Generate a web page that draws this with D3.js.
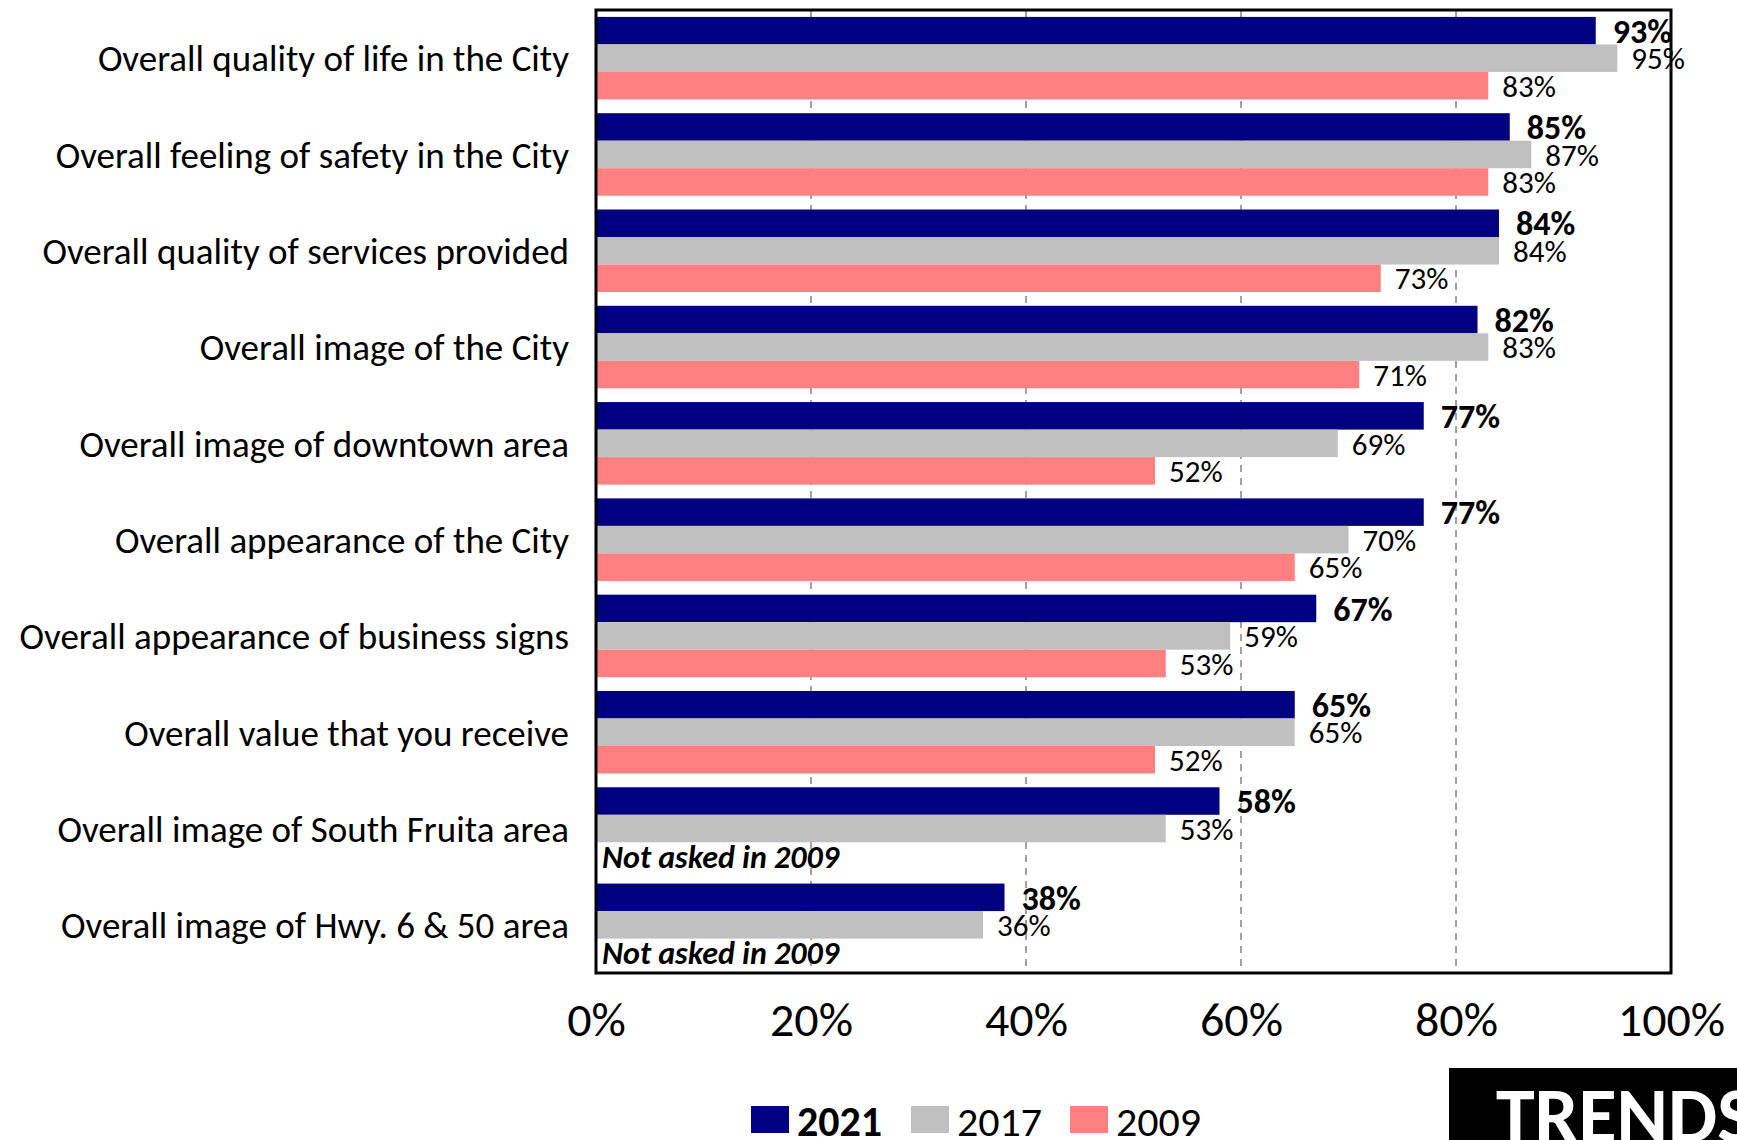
<!DOCTYPE html>
<html>
<head>
<meta charset="utf-8">
<script src="https://cdn.jsdelivr.net/npm/d3@7"></script>
<style>
  body { margin: 0; background: #fff; }
  text { font-family: Carlito, Lato, sans-serif; }
</style>
</head>
<body>
<div id="chart"></div>
<script>
// survey items, top to bottom
let categories = [
  "Overall quality of life in the City",
  "Overall feeling of safety in the City",
  "Overall quality of services provided",
  "Overall image of the City",
  "Overall image of downtown area",
  "Overall appearance of the City",
  "Overall appearance of business signs",
  "Overall value that you receive",
  "Overall image of South Fruita area",
  "Overall image of Hwy. 6 & 50 area"
];

let years = ["2021", "2017", "2009"];

let values2021 = [93, 85, 84, 82, 77, 77, 67, 65, 58, 38];
let values2017 = [95, 87, 84, 83, 69, 70, 59, 65, 53, 36];
let values2009 = [83, 83, 73, 71, 52, 65, 53, 52, null, null];

let xTicks = [0, 20, 40, 60, 80, 100];

let colors = { "2021": "#000080", "2017": "#c0c0c0", "2009": "#ff8080" };

let width = 1737;
let height = 1140;

let plotLeft = 596;
let plotRight = 1671;
let plotTop = 10;
let plotBottom = 973;

let svg = d3
  .select("#chart")
  .append("svg")
  .attr("width", width)
  .attr("height", height);

let xScale = d3.scaleLinear().domain([0, 100]).range([plotLeft, plotRight]);

let yScale = d3
  .scaleBand()
  .domain(categories)
  .range([plotTop, plotBottom])
  .paddingInner(0.143)
  .paddingOuter(0.0717);

let yInner = d3.scaleBand().domain(years).range([0, yScale.bandwidth()]);

let rows = categories.map(function(c, i) {
  return {
    cat: c,
    vals: { "2021": values2021[i], "2017": values2017[i], "2009": values2009[i] }
  };
});

// dashed gridlines
svg
  .append("g")
  .selectAll("line")
  .data(xTicks.slice(1, -1))
  .enter()
  .append("line")
  .attr("x1", function(d) { return xScale(d); })
  .attr("x2", function(d) { return xScale(d); })
  .attr("y1", plotTop)
  .attr("y2", plotBottom)
  .attr("stroke", "#444")
  .attr("stroke-width", 1)
  .attr("stroke-dasharray", "7,6");

// bars
let groups = svg
  .selectAll("g.row")
  .data(rows)
  .enter()
  .append("g")
  .attr("class", "row")
  .attr("transform", function(d) { return "translate(0," + yScale(d.cat) + ")"; });

groups.each(function(row) {
  let g = d3.select(this);
  years.forEach(function(yr) {
    let v = row.vals[yr];
    if (v === null) {
      g.append("text")
        .attr("x", plotLeft + 6)
        .attr("y", yInner(yr) + yInner.bandwidth() / 2)
        .attr("dy", "0.36em")
        .attr("font-size", 32)
        .attr("font-weight", "bold")
        .attr("font-style", "italic")
        .text("Not asked in 2009");
      return;
    }
    g.append("rect")
      .attr("x", xScale(0))
      .attr("y", yInner(yr))
      .attr("width", xScale(v) - xScale(0))
      .attr("height", yInner.bandwidth())
      .attr("fill", colors[yr]);
    g.append("text")
      .attr("x", xScale(v) + (yr === "2021" ? 17 : 14))
      .attr("y", yInner(yr) + yInner.bandwidth() / 2)
      .attr("dy", "0.36em")
      .attr("font-size", yr === "2021" ? 34 : 31)
      .attr("font-weight", yr === "2021" ? "bold" : "normal")
      .text(v + "%");
  });
});

// category labels
svg
  .append("g")
  .selectAll("text")
  .data(categories)
  .enter()
  .append("text")
  .attr("x", plotLeft - 27)
  .attr("y", function(d) { return yScale(d) + yScale.bandwidth() / 2; })
  .attr("dy", "0.36em")
  .attr("text-anchor", "end")
  .attr("font-size", 37)
  .text(function(d) { return d; });

// frame
svg
  .append("rect")
  .attr("x", plotLeft)
  .attr("y", plotTop)
  .attr("width", plotRight - plotLeft)
  .attr("height", plotBottom - plotTop)
  .attr("fill", "none")
  .attr("stroke", "#000")
  .attr("stroke-width", 3);

// x axis labels
let xAxis = d3
  .axisBottom(xScale)
  .tickValues(xTicks)
  .tickSize(0)
  .tickPadding(0)
  .tickFormat(function(d) { return d + "%"; });

let xAxisG = svg
  .append("g")
  .attr("transform", "translate(0," + plotBottom + ")")
  .call(xAxis);
xAxisG.select(".domain").remove();
xAxisG
  .selectAll("text")
  .attr("y", 63)
  .attr("dy", 0)
  .attr("font-size", 48)
  .attr("font-family", "Carlito, Lato, sans-serif")
  .attr("fill", "#000");

// legend
let legendX = [751, 911, 1070];
let legend = svg
  .selectAll("g.legend")
  .data(years)
  .enter()
  .append("g")
  .attr("class", "legend")
  .attr("transform", function(d, i) { return "translate(" + legendX[i] + ",1106)"; });

legend
  .append("rect")
  .attr("width", 38)
  .attr("height", 27)
  .attr("fill", function(d) { return colors[d]; });

legend
  .append("text")
  .attr("x", 46)
  .attr("y", 30)
  .attr("font-size", 42)
  .attr("font-weight", function(d) { return d === "2021" ? "bold" : "normal"; })
  .text(function(d) { return d; });

// TRENDS badge
svg
  .append("rect")
  .attr("x", 1449)
  .attr("y", 1068)
  .attr("width", 300)
  .attr("height", 100)
  .attr("fill", "#000");

svg
  .append("text")
  .attr("x", 1496)
  .attr("y", 1142)
  .attr("font-size", 78)
  .attr("font-weight", "bold")
  .attr("fill", "#fff")
  .text("TRENDS");
</script>
</body>
</html>
